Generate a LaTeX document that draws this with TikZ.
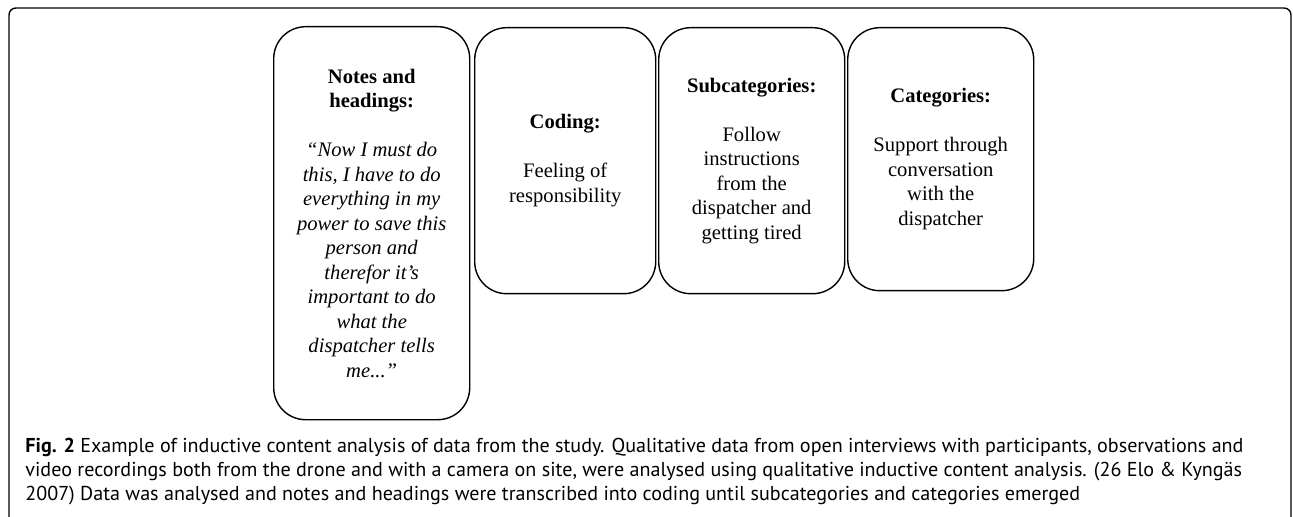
\documentclass[tikz,border=0pt]{standalone}
\usepackage{fontspec}
\setmainfont{Liberation Serif}
\newfontfamily\capfont{PT Sans}
\usetikzlibrary{positioning}

\begin{document}
\begin{tikzpicture}
	[
	x = 0.5pt, y = -0.5pt,
	stagebox/.style = {draw, line width=0.7pt, rounded corners=16pt, align=center,
		anchor=north west, inner sep=2pt, font=\fontsize{10.3}{12.25}\selectfont},
	capline/.style = {anchor=north west, align=left, inner sep=0pt,
		font=\capfont\fontsize{10.05}{12}\selectfont}
	]

	\useasboundingbox (0,0) rectangle (1293,517);
	\draw[line width=0.7pt, rounded corners=3.5pt] (9,8) rectangle (1291,540);

	\node[stagebox, minimum width=98pt, minimum height=196.5pt] (notes) at (273,26)
		{\textbf{Notes and}\\ \textbf{headings:}\\[\baselineskip]
		\itshape “Now I must do\\ \itshape this, I have to do\\ \itshape everything in my\\
		\itshape power to save this\\ \itshape person and\\ \itshape therefor it’s\\
		\itshape important to do\\ \itshape what the\\ \itshape dispatcher tells\\ \itshape me...”};
	\node[stagebox, minimum width=90.5pt, minimum height=133pt] (coding) at (474,27)
		{\textbf{Coding:}\\[\baselineskip] Feeling of\\ responsibility};
	\node[stagebox, minimum width=93pt, minimum height=133pt] (subcat) at (658,27)
		{\textbf{Subcategories:}\\[\baselineskip] Follow\\ instructions\\ from the\\ dispatcher and\\ getting tired};
	\node[stagebox, minimum width=93pt, minimum height=131.5pt] (cat) at (847,27)
		{\textbf{Categories:}\\[\baselineskip] Support through\\ conversation\\ with the\\ dispatcher};

	\node[capline] (caption) at (25,438)
		{\textbf{Fig. 2} Example of inductive content analysis of data from the study. Qualitative data from open interviews with participants, observations and\\
		video recordings both from the drone and with a camera on site, were analysed using qualitative inductive content analysis. (26 Elo \& Kyngäs\\
		2007) Data was analysed and notes and headings were transcribed into coding until subcategories and categories emerged};

\end{tikzpicture}
\end{document}
